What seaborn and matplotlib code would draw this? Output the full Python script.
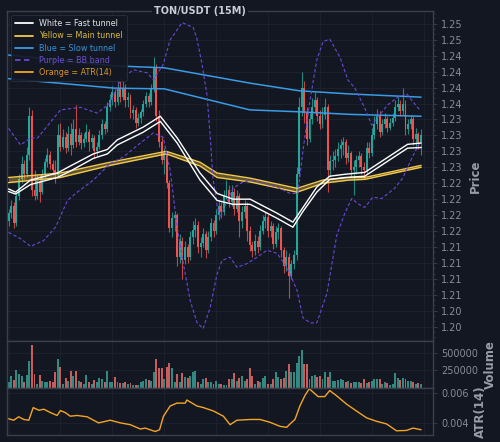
"""
TON/USDT 15m chart: candles + vegas tunnels + BB, volume and ATR panels
"""
import numpy as np
import pandas as pd
import seaborn as sns
import matplotlib as mpl
mpl.use('Agg')
from matplotlib import pyplot as plt
from matplotlib.lines import Line2D
from matplotlib.ticker import MultipleLocator, FormatStrFormatter, AutoMinorLocator

# ---- data (candle index 0..159) ----
opens = [1.2165, 1.2178, 1.2190, 1.2162, 1.2205, 1.2232, 1.2255, 1.2240, 1.2270, 1.2330,
         1.2215, 1.2205, 1.2228, 1.2212, 1.2240, 1.2258, 1.2270, 1.2255, 1.2245, 1.2238,
         1.2300, 1.2282, 1.2298, 1.2280, 1.2302, 1.2285, 1.2310, 1.2290, 1.2300, 1.2288,
         1.2295, 1.2305, 1.2290, 1.2296, 1.2275, 1.2282, 1.2300, 1.2318, 1.2310, 1.2345,
         1.2355, 1.2368, 1.2352, 1.2372, 1.2360, 1.2375, 1.2355, 1.2360, 1.2335, 1.2340,
         1.2320, 1.2328, 1.2336, 1.2350, 1.2362, 1.2352, 1.2372, 1.2408, 1.2330, 1.2290,
         1.2262, 1.2272, 1.2225, 1.2155, 1.2170, 1.2175, 1.2110, 1.2135, 1.2105, 1.2125,
         1.2110, 1.2140, 1.2152, 1.2160, 1.2125, 1.2132, 1.2145, 1.2120, 1.2140, 1.2162,
         1.2150, 1.2175, 1.2190, 1.2180, 1.2205, 1.2215, 1.2195, 1.2212, 1.2185, 1.2205,
         1.2165, 1.2180, 1.2190, 1.2150, 1.2128, 1.2118, 1.2135, 1.2125, 1.2150, 1.2165,
         1.2172, 1.2150, 1.2158, 1.2130, 1.2148, 1.2155, 1.2120, 1.2095, 1.2110, 1.2080,
         1.2098, 1.2112, 1.2240, 1.2345, 1.2375, 1.2335, 1.2295, 1.2325, 1.2345, 1.2355,
         1.2330, 1.2318, 1.2332, 1.2345, 1.2245, 1.2260, 1.2262, 1.2268, 1.2278, 1.2285,
         1.2290, 1.2265, 1.2272, 1.2245, 1.2250, 1.2262, 1.2268, 1.2250, 1.2245, 1.2280,
         1.2272, 1.2300, 1.2318, 1.2330, 1.2305, 1.2318, 1.2325, 1.2312, 1.2320, 1.2328,
         1.2345, 1.2350, 1.2338, 1.2350, 1.2310, 1.2318, 1.2325, 1.2295, 1.2302, 1.2288]
highs = [1.2185, 1.2198, 1.2195, 1.2212, 1.2240, 1.2268, 1.2262, 1.2282, 1.2345, 1.2340,
         1.2245, 1.2240, 1.2238, 1.2248, 1.2265, 1.2280, 1.2276, 1.2262, 1.2262, 1.2318,
         1.2320, 1.2310, 1.2305, 1.2315, 1.2320, 1.2325, 1.2348, 1.2312, 1.2305, 1.2303,
         1.2318, 1.2310, 1.2302, 1.2300, 1.2290, 1.2308, 1.2325, 1.2322, 1.2352, 1.2365,
         1.2378, 1.2372, 1.2388, 1.2385, 1.2385, 1.2380, 1.2368, 1.2365, 1.2348, 1.2345,
         1.2335, 1.2342, 1.2356, 1.2368, 1.2366, 1.2380, 1.2423, 1.2412, 1.2340, 1.2298,
         1.2280, 1.2276, 1.2230, 1.2180, 1.2182, 1.2178, 1.2145, 1.2140, 1.2135, 1.2130,
         1.2150, 1.2165, 1.2170, 1.2165, 1.2140, 1.2155, 1.2150, 1.2150, 1.2170, 1.2168,
         1.2185, 1.2198, 1.2195, 1.2215, 1.2230, 1.2222, 1.2222, 1.2218, 1.2215, 1.2210,
         1.2190, 1.2198, 1.2195, 1.2158, 1.2135, 1.2145, 1.2142, 1.2160, 1.2175, 1.2180,
         1.2176, 1.2165, 1.2162, 1.2158, 1.2162, 1.2158, 1.2125, 1.2120, 1.2115, 1.2105,
         1.2120, 1.2250, 1.2360, 1.2400, 1.2385, 1.2345, 1.2335, 1.2358, 1.2368, 1.2360,
         1.2340, 1.2345, 1.2358, 1.2350, 1.2270, 1.2275, 1.2278, 1.2290, 1.2295, 1.2298,
         1.2295, 1.2285, 1.2276, 1.2262, 1.2270, 1.2275, 1.2272, 1.2258, 1.2290, 1.2290,
         1.2312, 1.2330, 1.2342, 1.2338, 1.2325, 1.2335, 1.2330, 1.2328, 1.2335, 1.2355,
         1.2360, 1.2356, 1.2375, 1.2355, 1.2325, 1.2332, 1.2330, 1.2312, 1.2306, 1.2310]
lows = [1.2158, 1.2170, 1.2155, 1.2158, 1.2198, 1.2225, 1.2232, 1.2235, 1.2262, 1.2205,
        1.2198, 1.2200, 1.2196, 1.2208, 1.2232, 1.2250, 1.2248, 1.2238, 1.2225, 1.2235,
        1.2275, 1.2278, 1.2272, 1.2276, 1.2270, 1.2280, 1.2282, 1.2285, 1.2278, 1.2282,
        1.2290, 1.2275, 1.2280, 1.2265, 1.2268, 1.2278, 1.2295, 1.2302, 1.2305, 1.2338,
        1.2348, 1.2345, 1.2348, 1.2352, 1.2355, 1.2345, 1.2345, 1.2328, 1.2325, 1.2312,
        1.2315, 1.2320, 1.2330, 1.2345, 1.2345, 1.2348, 1.2368, 1.2322, 1.2282, 1.2255,
        1.2240, 1.2218, 1.2148, 1.2140, 1.2150, 1.2095, 1.2100, 1.2075, 1.2098, 1.2100,
        1.2105, 1.2130, 1.2140, 1.2115, 1.2110, 1.2125, 1.2108, 1.2115, 1.2135, 1.2140,
        1.2145, 1.2168, 1.2170, 1.2175, 1.2200, 1.2188, 1.2190, 1.2175, 1.2180, 1.2140,
        1.2155, 1.2170, 1.2135, 1.2118, 1.2110, 1.2112, 1.2115, 1.2120, 1.2145, 1.2155,
        1.2140, 1.2140, 1.2122, 1.2125, 1.2138, 1.2110, 1.2085, 1.2088, 1.2045, 1.2075,
        1.2090, 1.2105, 1.2235, 1.2330, 1.2320, 1.2285, 1.2290, 1.2318, 1.2335, 1.2322,
        1.2310, 1.2312, 1.2325, 1.2212, 1.2235, 1.2245, 1.2250, 1.2260, 1.2265, 1.2270,
        1.2255, 1.2258, 1.2235, 1.2206, 1.2240, 1.2250, 1.2240, 1.2232, 1.2240, 1.2265,
        1.2268, 1.2295, 1.2310, 1.2298, 1.2300, 1.2312, 1.2305, 1.2308, 1.2315, 1.2322,
        1.2338, 1.2330, 1.2332, 1.2300, 1.2302, 1.2310, 1.2285, 1.2280, 1.2278, 1.2270]
closes = [1.2178, 1.2190, 1.2162, 1.2205, 1.2232, 1.2255, 1.2240, 1.2270, 1.2330, 1.2215,
          1.2205, 1.2228, 1.2212, 1.2240, 1.2258, 1.2270, 1.2255, 1.2245, 1.2238, 1.2300,
          1.2282, 1.2298, 1.2280, 1.2302, 1.2285, 1.2310, 1.2290, 1.2300, 1.2288, 1.2295,
          1.2305, 1.2290, 1.2296, 1.2275, 1.2282, 1.2300, 1.2318, 1.2310, 1.2345, 1.2355,
          1.2368, 1.2352, 1.2372, 1.2360, 1.2375, 1.2355, 1.2360, 1.2335, 1.2340, 1.2320,
          1.2328, 1.2336, 1.2350, 1.2362, 1.2352, 1.2372, 1.2408, 1.2330, 1.2290, 1.2262,
          1.2272, 1.2225, 1.2155, 1.2170, 1.2175, 1.2110, 1.2135, 1.2105, 1.2125, 1.2110,
          1.2140, 1.2152, 1.2160, 1.2125, 1.2132, 1.2145, 1.2120, 1.2140, 1.2162, 1.2150,
          1.2175, 1.2190, 1.2180, 1.2205, 1.2215, 1.2195, 1.2212, 1.2185, 1.2205, 1.2165,
          1.2180, 1.2190, 1.2150, 1.2128, 1.2118, 1.2135, 1.2125, 1.2150, 1.2165, 1.2172,
          1.2150, 1.2158, 1.2130, 1.2148, 1.2155, 1.2120, 1.2095, 1.2110, 1.2080, 1.2098,
          1.2112, 1.2240, 1.2345, 1.2375, 1.2335, 1.2295, 1.2325, 1.2345, 1.2355, 1.2330,
          1.2318, 1.2332, 1.2345, 1.2245, 1.2260, 1.2262, 1.2268, 1.2278, 1.2285, 1.2290,
          1.2265, 1.2272, 1.2245, 1.2250, 1.2262, 1.2268, 1.2250, 1.2245, 1.2280, 1.2272,
          1.2300, 1.2318, 1.2330, 1.2305, 1.2318, 1.2325, 1.2312, 1.2320, 1.2328, 1.2345,
          1.2350, 1.2338, 1.2350, 1.2310, 1.2318, 1.2325, 1.2295, 1.2302, 1.2288, 1.2300]
volumes = [83, 167, 115, 254, 194, 171, 88, 180, 380, 611, 194, 56, 180, 102, 79, 79, 102, 88, 218, 403,
           301, 56, 134, 102, 241, 171, 241, 102, 79, 56, 180, 79, 56, 115, 79, 134, 125, 79, 241, 79,
           88, 148, 79, 70, 70, 79, 56, 70, 42, 42, 42, 79, 102, 125, 115, 102, 227, 403, 287, 287,
           125, 301, 356, 287, 79, 194, 79, 204, 148, 134, 171, 218, 241, 79, 56, 125, 134, 79, 88, 56,
           102, 56, 56, 42, 42, 125, 125, 204, 102, 134, 171, 100, 120, 287, 171, 56, 102, 79, 134, 171,
           56, 56, 125, 218, 148, 125, 134, 241, 333, 218, 218, 356, 449, 542, 333, 333, 125, 171, 180, 148,
           171, 125, 227, 148, 218, 102, 102, 115, 125, 115, 79, 102, 65, 88, 88, 88, 65, 125, 65, 79,
           102, 125, 125, 125, 56, 79, 65, 42, 56, 208, 134, 115, 134, 125, 102, 102, 79, 56, 70, 60]
volumes = [v * 1000 for v in volumes]

# tunnels (sparse points along the candle index)
fast_x = [0, 2.7, 8.5, 18.8, 23.8, 32.7, 38.1, 41.9, 51.9, 58.5, 65, 73.8, 80.4, 86.5, 93.1,
          103.5, 109.6, 113.5, 118.8, 123.8, 129.6, 137.3, 153.8, 159]
fast_upper = [1.2216, 1.2211, 1.2230, 1.2241, 1.2252, 1.2271, 1.2278, 1.2293, 1.2313, 1.2330,
              1.2296, 1.2241, 1.2209, 1.2200, 1.2200, 1.2178, 1.2164, 1.2187, 1.2219, 1.2236,
              1.2239, 1.2242, 1.2286, 1.2288]
fast_lower = [1.2212, 1.2208, 1.2223, 1.2234, 1.2244, 1.2264, 1.2271, 1.2285, 1.2305, 1.2322,
              1.2288, 1.2230, 1.2198, 1.2192, 1.2192, 1.2170, 1.2156, 1.2181, 1.2211, 1.2231,
              1.2234, 1.2236, 1.2280, 1.2281]
main_x = [0, 20, 39.2, 60.8, 73.8, 80.4, 93.1, 111.2, 121.2, 131.5, 137.3, 159]
main_upper = [1.2234, 1.2241, 1.2258, 1.2275, 1.2258, 1.2241, 1.2233, 1.2217, 1.2230, 1.2234, 1.2234, 1.2253]
main_lower = [1.2226, 1.2234, 1.2253, 1.2271, 1.2252, 1.2234, 1.2227, 1.2211, 1.2225, 1.2230, 1.2231, 1.2250]
slow_x = [0, 41, 60, 93, 112, 131.5, 159]
slow_upper = [1.2426, 1.2409, 1.2406, 1.2382, 1.2370, 1.2365, 1.2360]
slow_lower = [1.2389, 1.2374, 1.2373, 1.2340, 1.2337, 1.2333, 1.2330]

bb_up_x = [0, 4.6, 8.5, 11.2, 20, 27.7, 34.2, 39.2, 43.1, 48.1, 53.5, 55.8, 59.6, 62.3, 66.9,
           71.2, 72.7, 74.6, 76.5, 77.7, 78.8, 80.4, 81.5, 83.5, 86.5, 90, 93.8, 98.1, 103.5,
           108.5, 111.5, 113.5, 116.2, 118.8, 121.2, 123.8, 127.7, 130.8, 133.5, 137.3, 140,
           142.3, 146.2, 150, 153.5, 155.4, 158.5]
bb_upper = [1.2311, 1.2285, 1.2296, 1.2296, 1.2340, 1.2344, 1.2335, 1.2351, 1.2387, 1.2403,
            1.2398, 1.2387, 1.2411, 1.2450, 1.2477, 1.2469, 1.2450, 1.2411, 1.2363, 1.2300,
            1.2233, 1.2190, 1.2171, 1.2190, 1.2217, 1.2226, 1.2230, 1.2225, 1.2219, 1.2209,
            1.2209, 1.2277, 1.2355, 1.2418, 1.2447, 1.2451, 1.2423, 1.2387, 1.2374, 1.2343,
            1.2316, 1.2329, 1.2348, 1.2360, 1.2365, 1.2355, 1.2340]
bb_lo_x = [0, 4.6, 8.5, 13.5, 18.1, 22.7, 26.5, 32.7, 39.2, 44.2, 50.8, 55.8, 59.6, 62.3, 65,
           67.3, 70, 72.7, 75, 77.7, 80.4, 82.3, 85.4, 88.1, 91.9, 95.8, 99.6, 103.5, 107.3,
           111.2, 113.5, 116.2, 118.8, 122.7, 126.5, 129.6, 132.3, 134.6, 137.3, 140.4, 143.8,
           148.8, 151.9, 155.4, 158.5]
bb_lower = [1.2148, 1.2138, 1.2126, 1.2135, 1.2156, 1.2198, 1.2211, 1.2230, 1.2256, 1.2266,
            1.2288, 1.2304, 1.2297, 1.2245, 1.2156, 1.2101, 1.2041, 1.2006, 1.1997, 1.2030,
            1.2083, 1.2104, 1.2109, 1.2093, 1.2099, 1.2109, 1.2120, 1.2115, 1.2093, 1.2057,
            1.2014, 1.2006, 1.2006, 1.2052, 1.2143, 1.2178, 1.2201, 1.2193, 1.2187, 1.2203,
            1.2201, 1.2217, 1.2233, 1.2264, 1.2289]

atr_x = [0, 2.0, 3.9, 5.9, 7.8, 9.5, 11.7, 13.6, 16.2, 18.7, 20, 21.9, 23.8, 26.4, 30.3, 34.7,
         39.2, 43.1, 46.9, 50.8, 52.7, 56.5, 58.2, 59.7, 62.3, 64.9, 68.1, 68.7, 72.6, 75.1, 79,
         82.8, 85.4, 88, 93.1, 96.9, 100.8, 104.6, 107.2, 108.5, 110.4, 112.3, 114.2, 115.9,
         117.4, 119.3, 121.9, 123.8, 126.4, 130.3, 134.1, 138, 141.8, 145.7, 149.5, 153.3, 155.9, 159]
atr = [0.00426, 0.00416, 0.00439, 0.00421, 0.00416, 0.00501, 0.00483, 0.00490, 0.00467, 0.00448,
       0.00481, 0.00467, 0.00443, 0.00448, 0.00439, 0.00398, 0.00416, 0.00398, 0.00386, 0.00357,
       0.00363, 0.00340, 0.00352, 0.00443, 0.00512, 0.00531, 0.00531, 0.00552, 0.00512, 0.00501,
       0.00478, 0.00443, 0.00386, 0.00416, 0.00421, 0.00421, 0.00402, 0.00375, 0.00368, 0.00391,
       0.00421, 0.00512, 0.00581, 0.00628, 0.00605, 0.00575, 0.00575, 0.00616, 0.00581, 0.00524,
       0.00478, 0.00432, 0.00409, 0.00391, 0.00345, 0.00347, 0.00363, 0.00352]

# ---- styling ----
bg = '#131722'
grid_c = '#1e2230'
spine_c = '#3b3f4b'
text_c = '#878b95'
up_c = '#26a69a'
down_c = '#ef5350'
white_c = '#ffffff'
yellow_c = '#f2c94c'
blue_c = '#3a9be6'
purple_c = '#6b47d6'
orange_c = '#f5a524'

sns.set_theme(style='dark', rc={'axes.facecolor': bg, 'figure.facecolor': bg,
                                'axes.edgecolor': spine_c, 'grid.color': grid_c,
                                'text.color': text_c, 'xtick.color': text_c, 'ytick.color': text_c,
                                'axes.labelcolor': '#9a9da6', 'patch.edgecolor': 'none'})
plt.rcParams['font.family'] = ['DejaVu Sans']

df = pd.DataFrame({'open': opens, 'high': highs, 'low': lows, 'close': closes, 'volume': volumes})
df['idx'] = np.arange(len(df))
df['dir'] = np.where(df['close'] >= df['open'], 'up', 'down')

fig = plt.figure(figsize=(5, 4.42), dpi=100)
gs = fig.add_gridspec(3, 1, height_ratios=[7, 1, 1], hspace=0,
                      left=0.014, right=0.866, top=0.975, bottom=0.016)
ax = fig.add_subplot(gs[0])
ax_v = fig.add_subplot(gs[1], sharex=ax)
ax_a = fig.add_subplot(gs[2], sharex=ax)

# candles
cols = np.where(df['dir'] == 'up', up_c, down_c)
ax.vlines(df['idx'], df['low'], df['high'], colors=cols, lw=0.8, alpha=0.8, zorder=2)
body_lo = np.minimum(df['open'], df['close'])
body_h = np.maximum(np.abs(df['close'] - df['open']), 0.00008)
ax.bar(df['idx'], body_h, bottom=body_lo, width=0.75, color=cols, lw=0, zorder=3)

# tunnels + bollinger
sns.lineplot(x=slow_x, y=slow_upper, ax=ax, color=blue_c, lw=1.1, zorder=4)
sns.lineplot(x=slow_x, y=slow_lower, ax=ax, color=blue_c, lw=1.1, zorder=4)
ax.fill_between(main_x, main_lower, main_upper, color=yellow_c, alpha=0.35, lw=0, zorder=4)
sns.lineplot(x=main_x, y=main_upper, ax=ax, color=yellow_c, lw=1.0, zorder=4)
sns.lineplot(x=main_x, y=main_lower, ax=ax, color=yellow_c, lw=1.0, zorder=4)
sns.lineplot(x=fast_x, y=fast_upper, ax=ax, color=white_c, lw=1.0, zorder=5)
sns.lineplot(x=fast_x, y=fast_lower, ax=ax, color=white_c, lw=1.0, zorder=5)
sns.lineplot(x=bb_up_x, y=bb_upper, ax=ax, color=purple_c, lw=0.8, ls=(0, (3, 2)), zorder=4)
sns.lineplot(x=bb_lo_x, y=bb_lower, ax=ax, color=purple_c, lw=0.8, ls=(0, (3, 2)), zorder=4)

# volume
sns.barplot(data=df, x='idx', y='volume', hue='dir', palette={'up': up_c, 'down': down_c},
            native_scale=True, dodge=False, width=0.75, errorbar=None, legend=False,
            linewidth=0, edgecolor='none', alpha=0.9, ax=ax_v)

# atr
sns.lineplot(x=atr_x, y=atr, ax=ax_a, color=orange_c, lw=1.0)

# axes cosmetics
ax.set_xlim(-0.6, 163.6)
ax.set_ylim(1.1978, 1.2495)
ax_v.set_ylim(0, 667000)
ax_a.set_ylim(0.00317, 0.00634)

ax.yaxis.set_major_locator(MultipleLocator(0.0025))
ax.yaxis.set_major_formatter(FormatStrFormatter('%.2f'))
ax.yaxis.set_minor_locator(AutoMinorLocator(3))
ax_v.set_yticks([250000, 500000])
ax_a.set_yticks([0.004, 0.006])

for a, lab in [(ax, 'Price'), (ax_v, 'Volume'), (ax_a, 'ATR(14)')]:
    a.set_facecolor(bg)
    a.yaxis.tick_right()
    a.yaxis.set_label_position('right')
    a.set_ylabel(lab, fontsize=8.5, fontweight='bold', color='#9a9da6', labelpad=4)
    a.set_xlabel('')
    a.xaxis.set_major_locator(MultipleLocator(20))
    a.tick_params(axis='x', length=0, labelbottom=False)
    a.tick_params(axis='y', which='major', labelsize=7, length=3, width=0.6, color=spine_c, pad=3)
    a.tick_params(axis='y', which='minor', length=1.5, width=0.5, color=spine_c)
    a.grid(True, which='major', color=grid_c, lw=0.6)
    for s in a.spines.values():
        s.set_color(spine_c)
        s.set_linewidth(1.0)

ax.text(0.453, 1.0, 'TON/USDT (15M)', transform=ax.transAxes, ha='center', va='center',
        fontsize=7, fontweight='bold', color='#c9ccd4',
        bbox=dict(facecolor=bg, edgecolor='none', pad=1.2), zorder=10)

handles = [Line2D([], [], color=white_c, lw=1.3),
           Line2D([], [], color=yellow_c, lw=1.3),
           Line2D([], [], color=blue_c, lw=1.3),
           Line2D([], [], color=purple_c, lw=1.3, ls=(0, (3, 2))),
           Line2D([], [], color=orange_c, lw=1.3)]
labels = ['White = Fast tunnel', 'Yellow = Main tunnel', 'Blue = Slow tunnel',
          'Purple = BB band', 'Orange = ATR(14)']
leg = ax.legend(handles, labels, loc='upper left', fontsize=5.8, labelspacing=0.4,
                frameon=True, facecolor=bg, edgecolor='#2e323d', framealpha=0.9,
                borderpad=0.5, handlelength=2.2)
leg.get_frame().set_linewidth(0.6)
for t, c in zip(leg.get_texts(), ['#e4e4e4', '#d9b93f', '#3a92d8', '#6b4fcc', '#dc9426']):
    t.set_color(c)

fig.savefig('out.png', dpi=100, facecolor=bg)
